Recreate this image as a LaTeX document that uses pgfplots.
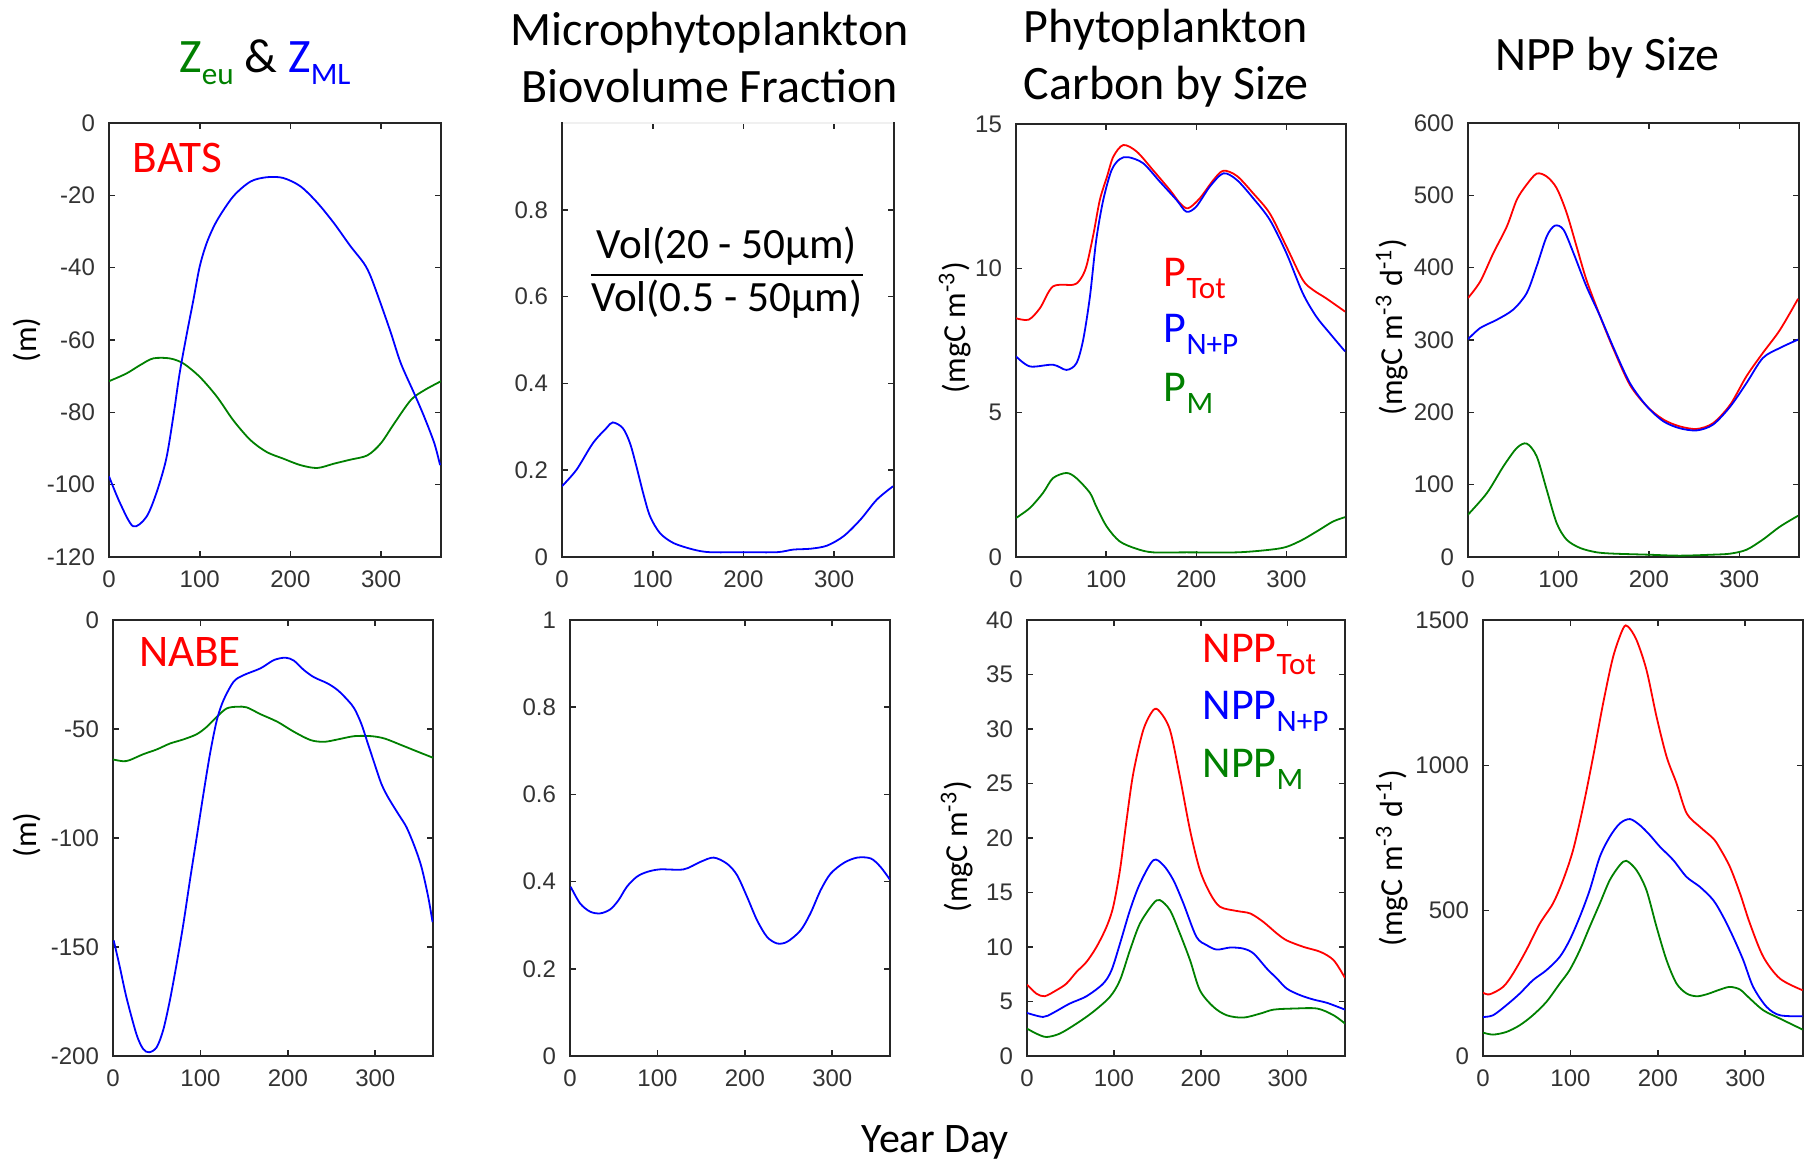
\documentclass[border=0pt]{standalone}
\usepackage{fontspec}
\setmainfont{Carlito}
\newfontfamily\tickfont{Liberation Sans}
\usepackage{pgfplots}
\pgfplotsset{compat=1.18}
\definecolor{mred}{RGB}{255,0,0}
\definecolor{mblue}{RGB}{0,0,255}
\definecolor{mgreen}{RGB}{0,128,0}
\newcommand{\sub}[2][7.8]{\raisebox{-3pt}{\fontsize{#1}{#1}\selectfont #2}}

\pgfplotsset{
  panel/.style={
    scale only axis, anchor=south west,
    xmin=0, xmax=366, xtick={0,100,200,300},
    tick align=inside, major tick length=1.6pt,
    axis line style={line width=0.5pt, black!85},
    every tick/.style={black!85, line width=0.4pt},
    tick label style={font=\tickfont\fontsize{6}{7}\selectfont, text=black!80},
    /pgf/number format/assume math mode=true,
    /pgf/number format/1000 sep={},
    scaled ticks=false,
    yticklabel style={/pgf/number format/fixed},
    ylabel style={font=\fontsize{8}{9}\selectfont, anchor=center},
  },
  cur/.style={line width=0.45pt, smooth, mark=none},
}

\begin{document}
\begin{tikzpicture}
\path[use as bounding box] (0,0) rectangle (451pt,290.5pt);

% ---------- BATS row ----------
\begin{axis}[panel, at={(27.25pt,151.25pt)}, width=83pt, height=108.5pt,
  ymin=-120, ymax=0, ytick={-120,-100,...,0},
  ylabel={(m)}, ylabel style={at={(axis description cs:-0.247,0.5)}}]
\addplot[cur, mgreen] coordinates {(0,-71.4)(19,-69.3)(34,-67)(48.7,-65.1)(67,-65.1)(82,-66.5)(100,-70.2)(119,-75.7)(137,-82.2)(156,-87.7)(174,-91)(192,-92.8)(211,-94.6)(229.5,-95.4)(248,-94.2)(266,-93.1)(284.9,-91.9)(299.6,-88.6)(314.4,-83.1)(332.8,-76.6)(347.6,-73.9)(366,-71.4)};
\addplot[cur, mblue] coordinates {(0,-97.7)(12,-105)(26.5,-111.5)(41,-109)(52,-102.5)(63,-93)(71,-81)(78,-69)(86,-58)(93,-49)(100,-39.7)(108,-33)(119,-27)(137,-20.3)(156,-16.2)(174,-15)(192,-15.2)(211,-17.5)(229.5,-22)(248,-27.7)(266,-34)(281,-38.8)(288.6,-42.5)(299.6,-50)(310.7,-58)(321.8,-66.5)(336.5,-74.8)(347.6,-81.3)(358.7,-88.6)(365,-94.6)};
\end{axis}

\begin{axis}[panel, at={(140.5pt,151.25pt)}, width=83pt, height=108.5pt,
  ymin=0, ymax=1, ytick={0,0.2,0.4,0.6,0.8}]
\addplot[cur, mblue] coordinates {(0,0.163)(16,0.201)(34,0.262)(49,0.297)(56,0.31)(67,0.297)(75,0.262)(82,0.209)(89.5,0.147)(97,0.094)(108,0.055)(123,0.032)(145,0.017)(163,0.011)(200,0.011)(237,0.011)(255,0.017)(274,0.019)(292,0.026)(310.5,0.048)(329,0.086)(347,0.132)(365,0.163)};
% the top frame line is almost invisible in this panel
\draw[black!6, line width=0.6pt] (rel axis cs:0.004,1) -- (rel axis cs:0.996,1);
\end{axis}

\begin{axis}[panel, at={(254pt,151.25pt)}, width=82.5pt, height=108.25pt,
  ymin=0, ymax=15, ytick={0,5,10,15},
  ylabel={(mgC m\textsuperscript{-3})}, ylabel style={at={(axis description cs:-0.185,0.53)}}]
\addplot[cur, mred] coordinates {(0,8.27)(14,8.22)(26.6,8.62)(41,9.37)(63.5,9.43)(71,9.6)(78,10.06)(86,11.2)(93,12.37)(101,13.18)(108,13.87)(119,14.27)(134,14.04)(152,13.4)(171,12.7)(182,12.25)(191,12.08)(204,12.43)(219,13.06)(230,13.38)(245,13.2)(263,12.6)(281.5,11.9)(300,10.75)(318,9.6)(329.5,9.25)(344,8.96)(365,8.5)};
\addplot[cur, mblue] coordinates {(0,6.95)(15.5,6.6)(41,6.66)(56,6.48)(67,6.71)(74.5,7.52)(82,9.02)(89,10.98)(96.8,12.37)(106,13.4)(115,13.78)(124.5,13.85)(141,13.64)(159.6,13.0)(178,12.37)(189,11.96)(200,12.14)(215,12.83)(230,13.29)(245,13.06)(263,12.43)(281.5,11.68)(300,10.52)(318,9.14)(333,8.33)(348,7.75)(365,7.12)};
\addplot[cur, mgreen] coordinates {(0,1.35)(15.5,1.70)(30,2.22)(41,2.73)(56,2.91)(67,2.73)(82,2.22)(89,1.75)(100.5,1.06)(115,0.54)(134,0.28)(152,0.16)(189,0.16)(245,0.16)(281.5,0.25)(300,0.35)(318,0.6)(337,0.95)(351.7,1.23)(365,1.38)};
\end{axis}

\begin{axis}[panel, at={(367pt,151.25pt)}, width=82.75pt, height=108.5pt,
  ymin=0, ymax=600, ytick={0,100,...,600},
  ylabel={(mgC m\textsuperscript{-3} d\textsuperscript{-1})}, ylabel style={at={(axis description cs:-0.23,0.53)}}]
\addplot[cur, mred] coordinates {(0,358)(13.6,381)(28,420)(43,457)(54,494)(65,515)(76,530)(87,526)(98,510)(109,476)(120,429.5)(131,383)(146,333)(161,287)(179,238)(198,208)(216,190)(234,180.6)(253,177)(271,185)(290,210.6)(308,250)(326,282)(345,314)(365,357)};
\addplot[cur, mblue] coordinates {(0,301)(13.6,316.6)(32,328)(50,342)(65,365)(76,402)(87,443)(96,458)(105.6,452.5)(116.7,420)(131,374)(146,333)(161,289)(179,240.5)(198,208)(216,187.6)(234,178)(253,175)(271,183)(290,208)(308,240.5)(326,275)(345,289)(365,300.5)};
\addplot[cur, mgreen] coordinates {(0,58.5)(21,88.5)(39,125)(54,150.7)(65,156.7)(76,139)(87,93)(98,47)(109,24)(124,12.4)(142,6.5)(161,4.6)(198,3.2)(234,1.8)(271,3.2)(290,4.6)(308,10)(326,24)(345,42)(365,57)};
\end{axis}

% ---------- NABE row ----------
\begin{axis}[panel, at={(28.25pt,26.5pt)}, width=80pt, height=109pt,
  ymin=-200, ymax=0, ytick={-200,-150,...,0},
  ylabel={(m)}, ylabel style={at={(axis description cs:-0.27,0.507)}}]
\addplot[cur, mgreen] coordinates {(0,-64)(11.5,-64.8)(19,-64.3)(34.5,-61.6)(50,-59.4)(65,-56.7)(80.5,-54.8)(95.8,-52.4)(107.3,-49)(118.8,-44.4)(130,-40.6)(141.8,-39.8)(153,-40.1)(168.6,-43.2)(188,-46.7)(207,-51.3)(226,-55.1)(241.4,-55.9)(257,-54.8)(276,-53.3)(295.4,-53.3)(310.7,-54.4)(329.8,-57.4)(349,-60.5)(366,-63.2)};
\addplot[cur, mblue] coordinates {(0.8,-147)(7.7,-159)(15.3,-173)(26.8,-190)(34.5,-196.8)(41.4,-198.3)(50,-196)(57.5,-188)(65,-174.6)(72.8,-157.7)(80.5,-139.4)(88,-119.4)(95.8,-99.5)(103.5,-79.6)(111,-61.3)(118.8,-45.9)(126.4,-36.8)(138,-28.3)(149.4,-25.3)(168.6,-22.2)(184,-18.4)(197.3,-17.3)(207,-18.7)(218.4,-23)(230,-26.3)(245.4,-29.1)(257,-32.2)(268.5,-36.8)(276,-40.6)(283.9,-47.5)(291.5,-56.7)(299,-65.8)(306.8,-75)(314.4,-81.2)(326,-88.8)(335.6,-95)(345,-104)(352.8,-113.3)(360.5,-127)(365.5,-138.6)};
\end{axis}

\begin{axis}[panel, at={(142.5pt,26.5pt)}, width=80pt, height=109pt,
  ymin=0, ymax=1, ytick={0,0.2,...,1}]
\addplot[cur, mblue] coordinates {(0.8,0.388)(11.5,0.35)(23,0.331)(34.4,0.327)(45.9,0.336)(55.4,0.357)(65,0.388)(76.4,0.411)(88,0.422)(103,0.428)(130,0.428)(149,0.445)(164.3,0.455)(179.6,0.441)(191,0.415)(202.5,0.365)(214,0.311)(225.4,0.273)(237,0.258)(248.5,0.262)(263.7,0.288)(275,0.327)(286.6,0.38)(298,0.418)(313.3,0.443)(328.6,0.455)(344,0.453)(355,0.434)(365.7,0.405)};
\end{axis}

\begin{axis}[panel, at={(256.75pt,26.5pt)}, width=79.5pt, height=109pt,
  ymin=0, ymax=40, ytick={0,5,...,40},
  ylabel={(mgC m\textsuperscript{-3})}, ylabel style={at={(axis description cs:-0.22,0.48)}}]
\addplot[cur, mred] coordinates {(0,6.55)(10.8,5.72)(20.4,5.48)(33.8,6.03)(45.4,6.64)(57,7.71)(68.5,8.63)(80,10.0)(91.5,11.84)(99.2,13.68)(107,17.05)(114.6,21.64)(122.3,25.92)(133.8,29.9)(145.4,31.74)(153,31.58)(164.6,29.9)(176,25.6)(187.7,20.7)(199,17.05)(210.8,14.9)(222.3,13.68)(241.5,13.3)(257,13.07)(272,12.3)(287.7,11.23)(299,10.6)(318.5,10.0)(337.7,9.55)(353,8.78)(366,7.16)};
\addplot[cur, mblue] coordinates {(0,3.95)(18.5,3.58)(30,3.95)(49,4.8)(68.5,5.48)(87.7,6.64)(97.3,7.87)(107,10.3)(118.5,13.37)(130,15.82)(145.4,17.96)(157,17.5)(168.5,16.13)(180,14.0)(195,10.93)(207,10.16)(218.5,9.76)(234,9.95)(249,9.85)(260.8,9.4)(276,8.02)(287.7,7.1)(299,6.18)(314.6,5.57)(330,5.17)(345.4,4.87)(366,4.25)};
\addplot[cur, mgreen] coordinates {(0,2.51)(10.8,2.05)(22.3,1.74)(37.7,2.05)(57,2.97)(76,4.04)(95.4,5.42)(107,6.95)(118.5,9.7)(130,12.15)(145.4,13.99)(153,14.3)(164.6,13.37)(176,11.23)(187.7,8.78)(199,6.03)(214.6,4.5)(230,3.73)(249,3.52)(268.5,3.89)(283.8,4.25)(307,4.35)(334,4.35)(353,3.73)(366,2.97)};
\end{axis}

\begin{axis}[panel, at={(370.75pt,26.5pt)}, width=80pt, height=109pt,
  ymin=0, ymax=1500, ytick={0,500,1000,1500},
  ylabel={(mgC m\textsuperscript{-3} d\textsuperscript{-1})}, ylabel style={at={(axis description cs:-0.284,0.454)}}]
\addplot[cur, mred] coordinates {(0,218)(7.6,212)(23,237.6)(34.4,283.5)(49.6,364)(65,455.6)(80,524.5)(91.6,605)(103,708)(114.5,857)(126,1030)(137.4,1213)(148.9,1374)(160.3,1471)(166,1477)(175.6,1431)(187,1328)(198.5,1167)(210,1029.5)(221.4,937.7)(233,834.4)(248,788.5)(263.4,748)(271,714)(282.4,650.7)(294,559)(305.3,455.6)(320.6,341)(339.7,266)(365.6,226)};
\addplot[cur, mblue] coordinates {(0,134)(11.5,140)(26.7,174.5)(42,214.6)(57,260.5)(72.5,295)(87.8,341)(99,398)(110.7,478.6)(122,570)(133.6,685)(145,754)(156.5,800)(168,815)(179.4,794)(190.8,760)(202.3,720)(217.6,674)(232.8,616)(248,582)(263.4,536)(274.8,478.6)(286,410)(297.7,329.4)(309,237.6)(324.4,168.7)(339.7,140)(365.6,136.6)};
\addplot[cur, mgreen] coordinates {(0,80.3)(11.5,73.5)(26.7,82.6)(42,105.6)(57,140)(72.5,186)(87.8,249)(99,295)(110.7,363.8)(122,444)(133.6,524.5)(145,605)(156.5,656.5)(164,671.4)(175.6,639)(187,570)(198.5,444)(210,329)(221.4,249)(233,214.6)(244.3,205.4)(255.7,212)(271,228.4)(282.4,237.6)(294,228.4)(305.3,197.4)(320.6,157.2)(339.7,128.5)(365.6,90.7)};
\end{axis}

% ---------- titles and labels ----------
\begin{scope}[every node/.style={inner sep=0pt}]
\node[font=\fontsize{12}{14.25}\selectfont] at (66.25pt,275pt)
  {\textcolor{mgreen}{Z\sub{eu}} \& \textcolor{mblue}{Z\sub{ML}}};
\node[font=\fontsize{12}{14.25}\selectfont, align=center] at (177.5pt,276pt)
  {Microphytoplankton\\Biovolume Fraction};
\node[font=\fontsize{12}{14.25}\selectfont, align=center] at (291.5pt,276pt)
  {Phytoplankton\\Carbon by Size};
\node[font=\fontsize{12}{14.25}\selectfont] at (401.75pt,276pt) {NPP by Size};
\node[font=\fontsize{10.5}{12}\selectfont] at (233.75pt,5pt) {Year Day};

\node[font=\fontsize{11.3}{13}\selectfont, text=mred] at (44.4pt,251.1pt) {BATS};
\node[font=\fontsize{11.3}{13}\selectfont, text=mred] at (47.5pt,127.4pt) {NABE};

\node[font=\fontsize{10.8}{12.5}\selectfont] at (181.75pt,221.75pt)
  {\setlength{\tabcolsep}{0pt}\setlength{\arrayrulewidth}{0.6pt}%
   \begin{tabular}{c}Vol(20 - 50µm)\\\hline Vol(0.5 - 50µm)\end{tabular}};

\node[anchor=base west, font=\fontsize{11}{12}\selectfont, text=mred]   at (290.75pt,218.8pt) {P\sub{Tot}};
\node[anchor=base west, font=\fontsize{11}{12}\selectfont, text=mblue]  at (290.75pt,204.75pt) {P\sub{N+P}};
\node[anchor=base west, font=\fontsize{11}{12}\selectfont, text=mgreen] at (290.75pt,190.1pt) {P\sub{M}};

\node[anchor=base west, font=\fontsize{11}{12}\selectfont, text=mred]   at (300.5pt,124.75pt) {NPP\sub{Tot}};
\node[anchor=base west, font=\fontsize{11}{12}\selectfont, text=mblue]  at (300.5pt,110.5pt) {NPP\sub{N+P}};
\node[anchor=base west, font=\fontsize{11}{12}\selectfont, text=mgreen] at (300.5pt,96pt) {NPP\sub{M}};
\end{scope}
\end{tikzpicture}
\end{document}
